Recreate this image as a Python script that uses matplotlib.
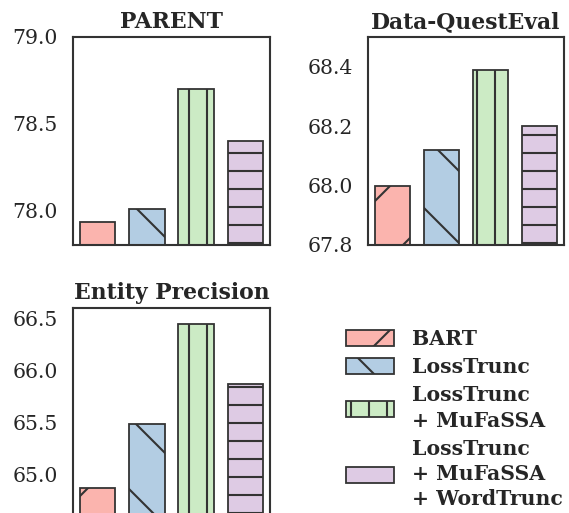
import matplotlib
matplotlib.use("Agg")
import matplotlib.pyplot as plt
import matplotlib.patches as mpatches
import numpy as np

methods = ["BART", "LossTrunc", "LossTrunc\n+ MuFaSSA", "LossTrunc\n+ MuFaSSA\n+ WordTrunc"]
colors = ["#fbb4ae", "#b3cde3", "#ccebc5", "#decbe4"]
hatches = ["/", "\\", "||", "--"]
legend_hatches = ["/", "\\", "||", ""]

parent_vals = [77.93, 78.01, 78.70, 78.40]
dqe_vals = [68.00, 68.12, 68.39, 68.20]
ep_vals = [64.87, 65.48, 66.45, 65.87]

titles = ["PARENT", "Data-QuestEval", "Entity Precision"]
ylims = [(77.8, 79.0), (67.8, 68.5), (64.6, 66.6)]
yticks = [[78.0, 78.5, 79.0], [67.8, 68.0, 68.2, 68.4], [65.0, 65.5, 66.0, 66.5]]

DPI = 216
W, H = 569, 513
plt.rcParams["font.family"] = ["DejaVu Serif"]
plt.rcParams["hatch.linewidth"] = 0.7
FS = 6.8
TFS = 7.3
TXT = "#262626"
EDGE = "#333333"

fig = plt.figure(figsize=(W / DPI, H / DPI), dpi=DPI)

def ax_at(l, r, t, b):
    return fig.add_axes([l / W, 1 - b / H, (r - l) / W, (b - t) / H])

axes = [ax_at(73, 270, 37, 245), ax_at(368, 564, 37, 245), ax_at(73, 270, 308, 516)]
data = [parent_vals, dqe_vals, ep_vals]

x = np.arange(len(methods))
for ax, vals, title, yl, yt in zip(axes, data, titles, ylims, yticks):
    bars = ax.bar(x, vals, width=0.72, color=colors, edgecolor=EDGE, linewidth=0.6)
    for b, h in zip(bars, hatches):
        b.set_hatch(h)
    ax.set_xlim(-0.5, 3.5)
    ax.set_ylim(*yl)
    ax.set_yticks(yt)
    ax.set_yticklabels([f"{v:.1f}" for v in yt])
    ax.set_xticks([])
    ax.tick_params(axis="y", length=0, pad=5, labelsize=FS, colors=TXT)
    ax.set_title(title, fontsize=TFS, fontweight="bold", color=TXT, pad=3)
    for s in ax.spines.values():
        s.set_color(EDGE)
        s.set_linewidth(0.7)

handles = [mpatches.Patch(facecolor=c, edgecolor=EDGE, hatch=h, linewidth=0.6)
           for c, h in zip(colors, legend_hatches)]
leg = fig.legend(handles, methods, loc="upper left",
                 bbox_to_anchor=(346 / W, 1 - 329 / H), frameon=False,
                 prop={"size": FS, "weight": "bold"},
                 handlelength=2.35, handleheight=0.8, handletextpad=0.9,
                 labelspacing=0.4, borderpad=0, borderaxespad=0)
for t in leg.get_texts():
    t.set_color(TXT)
    t.set_linespacing(1.33)

fig.savefig("out.png", dpi=DPI)
